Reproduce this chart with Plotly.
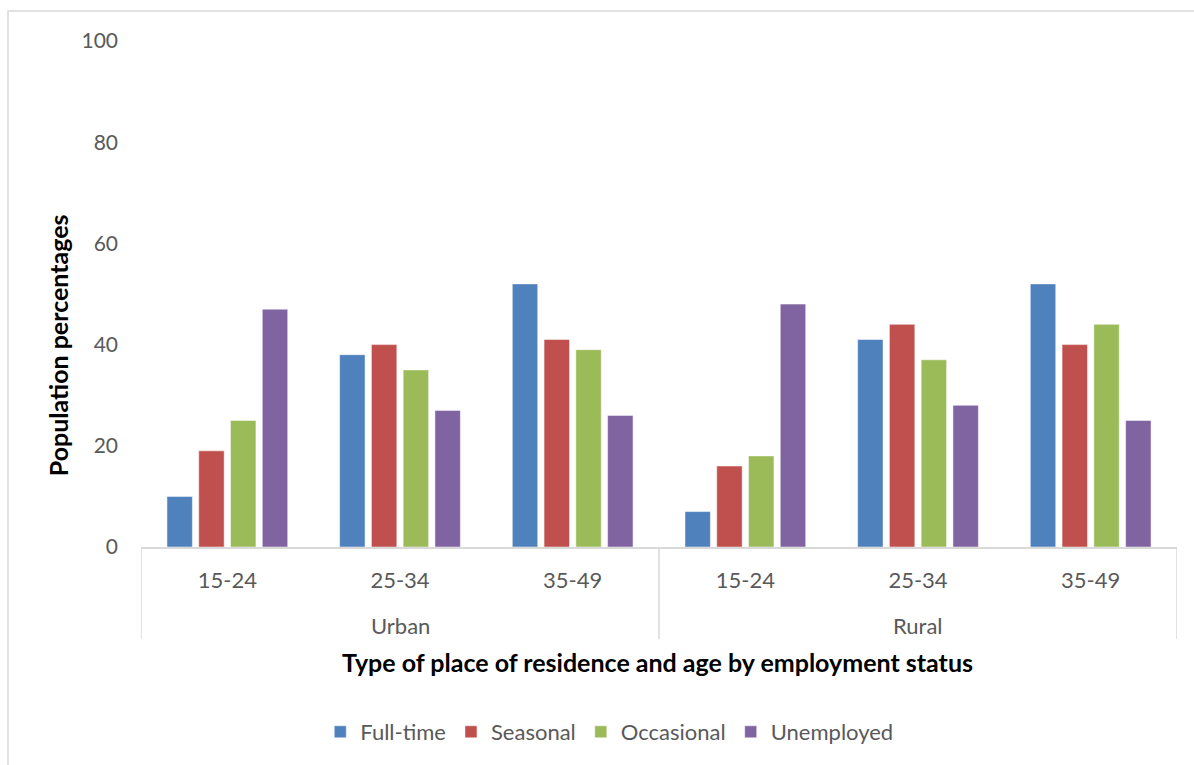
import plotly.graph_objects as go

# Category labels
residence = ["Urban", "Rural"]
age_groups = ["15-24", "25-34", "35-49"]
categories = [f"{r} {a}" for r in residence for a in age_groups]
tick_labels = age_groups * 2

# Population percentages by employment status (Urban 15-24 ... Rural 35-49)
full_time = [10, 38, 52, 7, 41, 52]
seasonal = [19, 40, 41, 16, 44, 40]
occasional = [25, 35, 39, 18, 37, 44]
unemployed = [47, 27, 26, 48, 28, 25]

series_names = ["Full-time", "Seasonal", "Occasional", "Unemployed"]
series_values = [full_time, seasonal, occasional, unemployed]
series_colors = ["#4F81BD", "#C0504D", "#9BBB59", "#8064A2"]

FONT = "Lato, 'Open Sans', sans-serif"
GRAY_TEXT = "#595959"
LINE_GRAY = "#D9D9D9"
LABEL_SIZE = 21
TITLE_SIZE = 25

x_pos = list(range(len(categories)))

fig = go.Figure()
for name, vals, color in zip(series_names, series_values, series_colors):
    fig.add_trace(go.Bar(
        x=x_pos, y=vals, name=name,
        marker=dict(color=color, line=dict(color="rgba(255,255,255,0.6)", width=0.8)),
        hovertemplate="%{y}<extra>" + name + "</extra>",
    ))

# Separators of the two-level category axis
n_age = len(age_groups)
for k in range(len(residence) + 1):
    fig.add_shape(type="line", xref="x", yref="paper",
                  x0=k * n_age - 0.5, x1=k * n_age - 0.5, y0=0, y1=-0.182,
                  line=dict(color=LINE_GRAY, width=1.5))

# Outer group labels
for i, r in enumerate(residence):
    fig.add_annotation(x=i * n_age + (n_age - 1) / 2, y=-0.156, xref="x", yref="paper",
                       text=r, showarrow=False,
                       font=dict(family=FONT, size=LABEL_SIZE + 1, color=GRAY_TEXT),
                       xanchor="center", yanchor="middle")

# Axis titles
fig.add_annotation(x=0.499, y=-0.227, xref="paper", yref="paper",
                   text="<b>Type of place of residence and age by employment status</b>",
                   showarrow=False, font=dict(family=FONT, size=TITLE_SIZE, color="#000000"),
                   xanchor="center", yanchor="middle")
fig.add_annotation(x=-0.080, y=0.399, xref="paper", yref="paper",
                   text="<b>Population percentages</b>", textangle=-90,
                   showarrow=False, font=dict(family=FONT, size=TITLE_SIZE, color="#000000"),
                   xanchor="center", yanchor="middle")

# Chart area border
fig.add_shape(type="rect", xref="paper", yref="paper",
              x0=-0.1284, x1=1.05, y0=-0.45, y1=1.0593,
              line=dict(color=LINE_GRAY, width=1.5), layer="below")

fig.update_layout(
    width=1194, height=765,
    margin=dict(l=141, r=17, t=41, b=218, autoexpand=False),
    paper_bgcolor="white", plot_bgcolor="white",
    barmode="group", bargap=0.264, bargroupgap=0.2,
    font=dict(family=FONT, color=GRAY_TEXT),
    showlegend=True,
    legend=dict(orientation="h", x=0.452, y=-0.3656, xanchor="center", yanchor="middle",
                font=dict(family=FONT, size=LABEL_SIZE + 1, color=GRAY_TEXT),
                itemwidth=30, traceorder="normal"),
    xaxis=dict(range=[-0.5, len(categories) - 0.5], tickmode="array",
               tickvals=x_pos, ticktext=tick_labels,
               tickfont=dict(family=FONT, size=LABEL_SIZE + 1, color=GRAY_TEXT),
               showline=True, linecolor=LINE_GRAY, linewidth=1.5,
               showgrid=False, zeroline=False, ticks="", ticklabelstandoff=13,
               fixedrange=True),
    yaxis=dict(range=[0, 100], tickmode="array", tickvals=[0, 20, 40, 60, 80, 100],
               tickfont=dict(family=FONT, size=LABEL_SIZE, color=GRAY_TEXT),
               showline=False, showgrid=False, zeroline=False, ticks="",
               ticklabelstandoff=22, fixedrange=True),
)

fig.write_html("out.html")
